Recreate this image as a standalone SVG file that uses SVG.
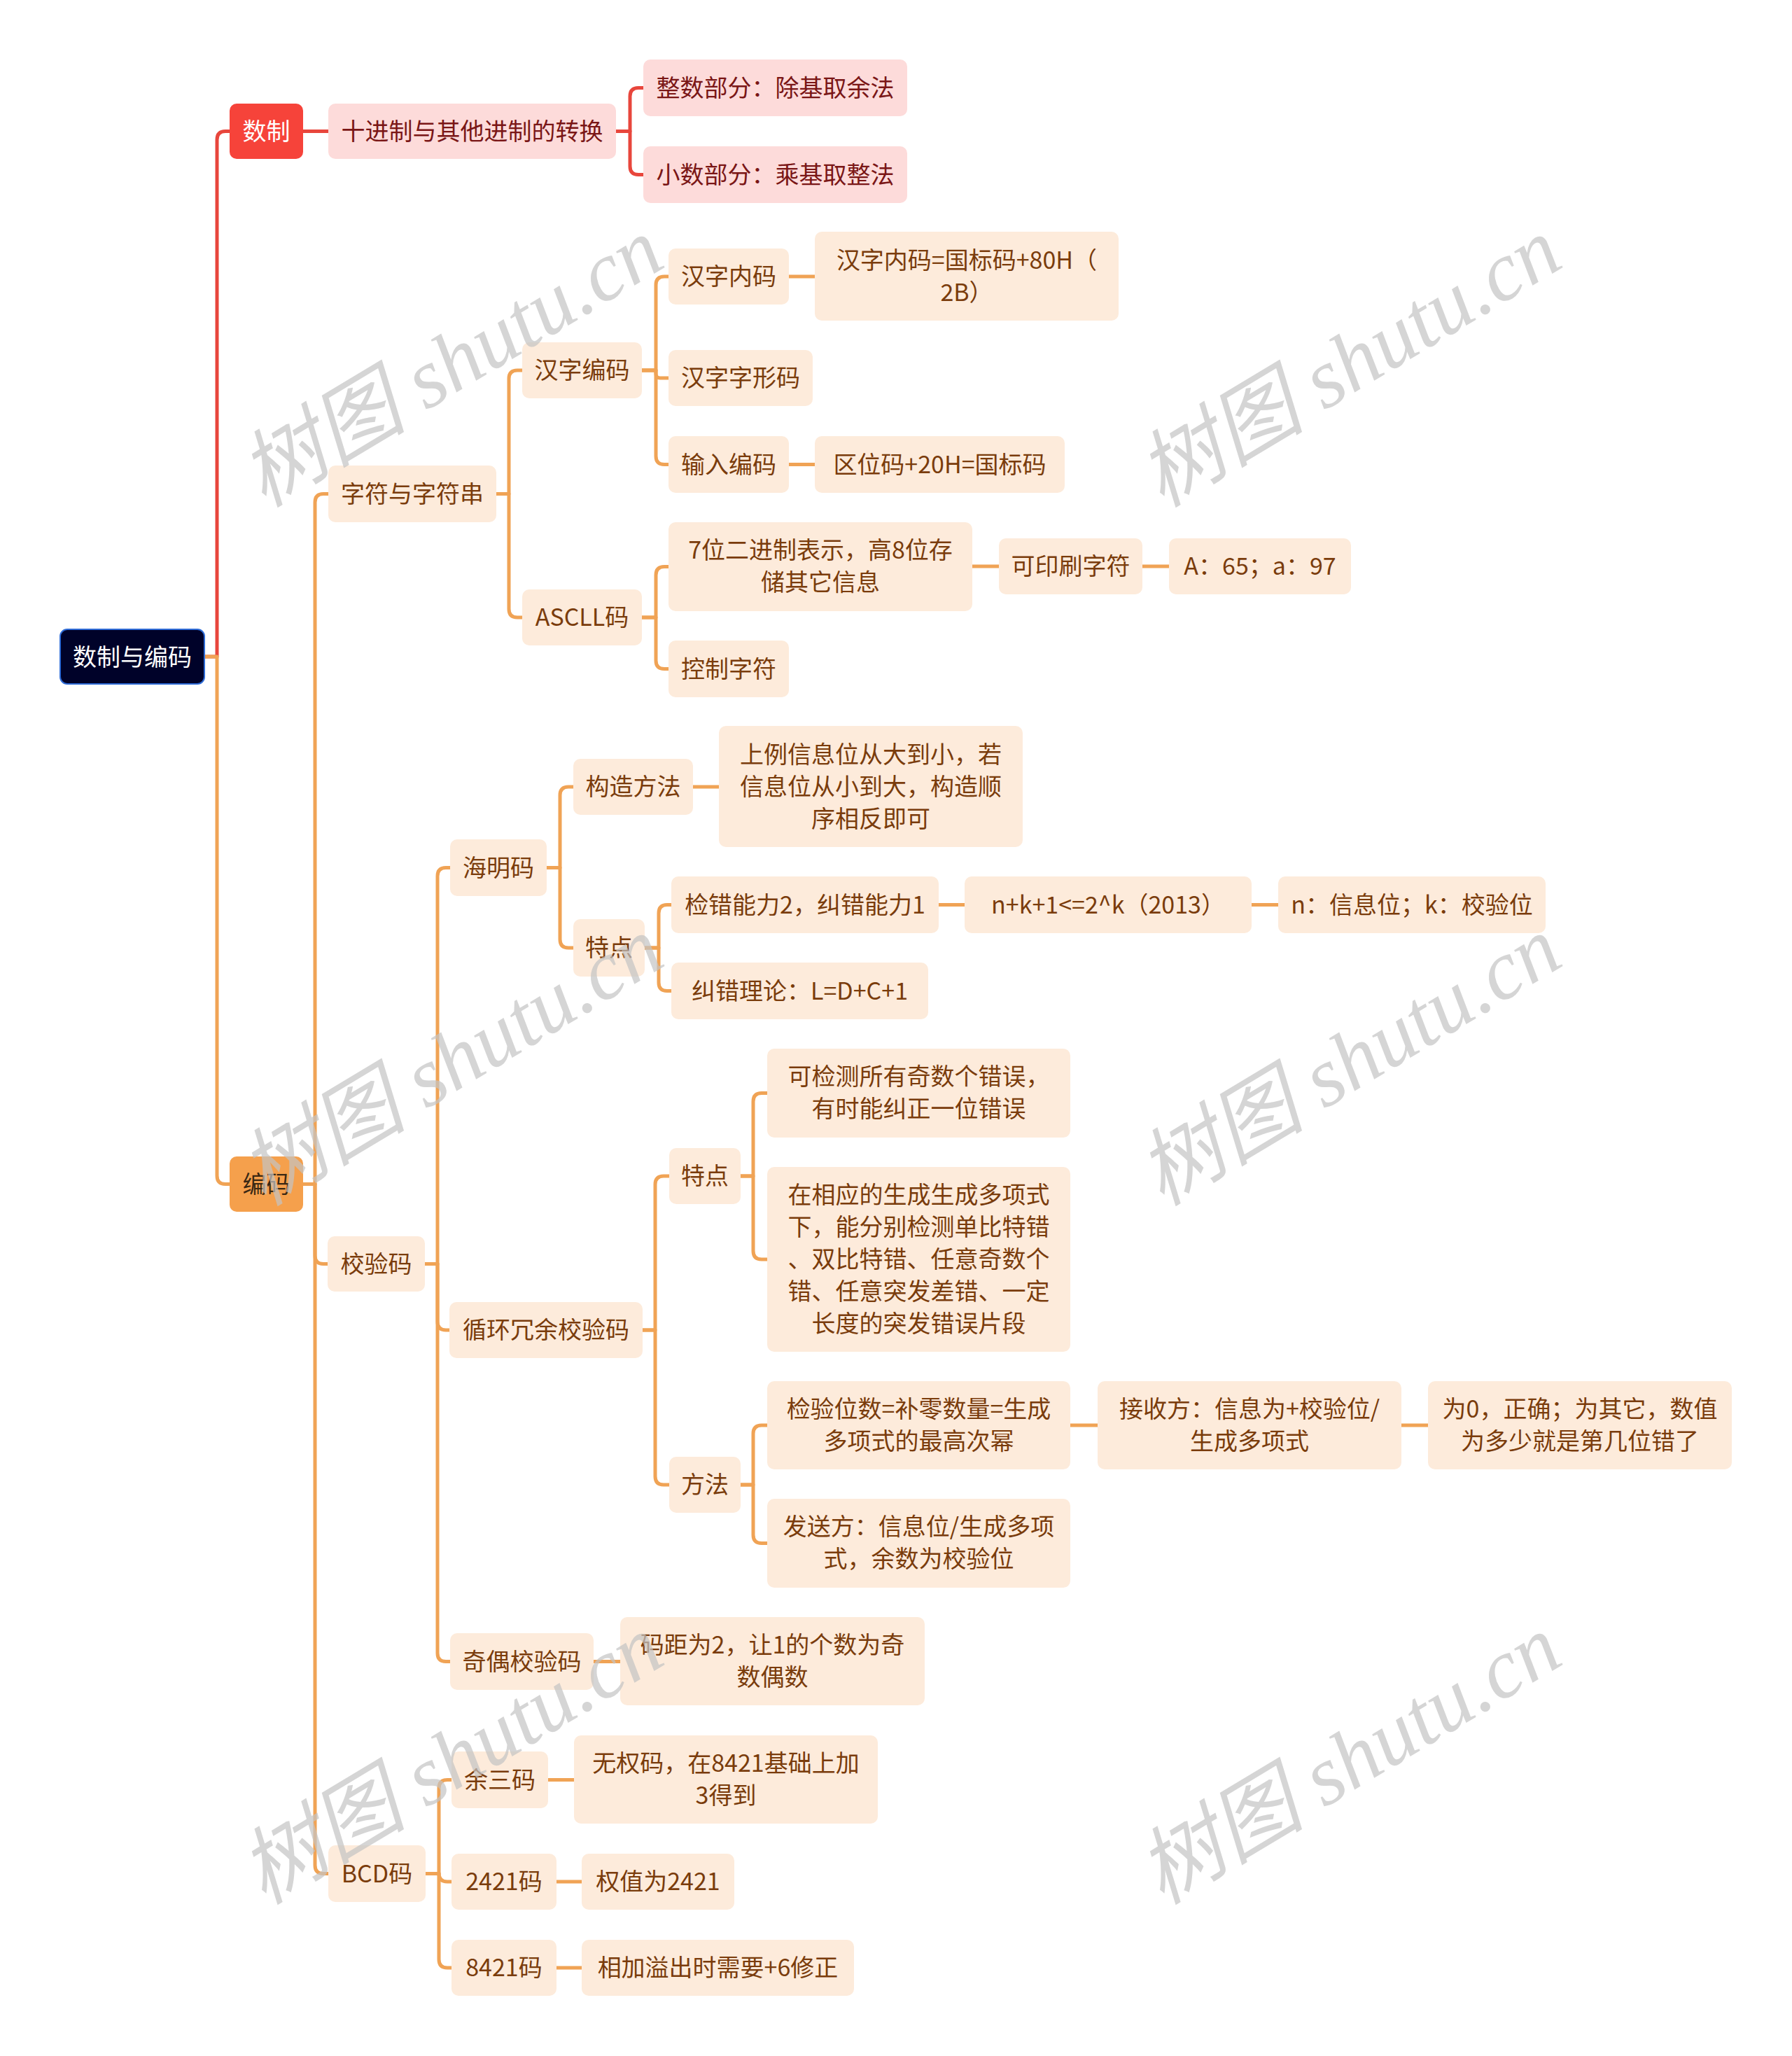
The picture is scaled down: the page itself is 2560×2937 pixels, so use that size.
<svg xmlns="http://www.w3.org/2000/svg" width="2560" height="2937" viewBox="0 0 2560 2937">
<style>
.bg{fill:#ffffff}
.n rect{fill:#fdebdb;rx:10px;ry:10px}
.n text{fill:#7a3c0c;font-family:"Noto Sans CJK SC","Noto Sans",sans-serif;font-size:34px;text-anchor:middle}
.p rect{fill:#fddbda}
.p text{fill:#7a1616}
.cr{fill:none;stroke:#e8463c;stroke-width:5;stroke-linecap:round;stroke-linejoin:round}
.co{fill:none;stroke:#f0a355;stroke-width:5;stroke-linecap:round;stroke-linejoin:round}
.wm{fill:#c4c4c4;opacity:0.7;font-family:"Liberation Serif","Noto Sans CJK SC",serif;font-style:italic;font-size:120px;text-anchor:middle}
</style>
<rect class="bg" x="0" y="0" width="2560" height="2937"/>
<g id="connectors">
<path class="cr" d="M292 938 H310 V199.5 Q310 187.5 322 187.5 H328"/>
<path class="cr" d="M433 187.5 H469"/>
<path class="cr" d="M880 187.5 H900 V137.5 Q900 125.5 912 125.5 H919"/>
<path class="cr" d="M880 187.5 H900 V237.5 Q900 249.5 912 249.5 H919"/>
<path class="co" d="M292 938 H310 V1679.5 Q310 1691.5 322 1691.5 H328"/>
<path class="co" d="M433 1691.5 H450 V717.5 Q450 705.5 462 705.5 H469"/>
<path class="co" d="M433 1691.5 H450 V1793.5 Q450 1805.5 462 1805.5 H468"/>
<path class="co" d="M433 1691.5 H450 V2664.5 Q450 2676.5 462 2676.5 H469"/>
<path class="co" d="M709 705.5 H727 V541 Q727 529 739 529 H746"/>
<path class="co" d="M709 705.5 H727 V870 Q727 882 739 882 H746"/>
<path class="co" d="M917 529 H937 V407 Q937 395 949 395 H955"/>
<path class="co" d="M917 529 H937 V534 Q937 540 943 540 H955"/>
<path class="co" d="M917 529 H937 V651.5 Q937 663.5 949 663.5 H955"/>
<path class="co" d="M1127 395 H1164"/>
<path class="co" d="M1127 663.5 H1164"/>
<path class="co" d="M917 882 H937 V821.5 Q937 809.5 949 809.5 H955"/>
<path class="co" d="M917 882 H937 V943.5 Q937 955.5 949 955.5 H955"/>
<path class="co" d="M1389 809 H1427"/>
<path class="co" d="M1632 809 H1670"/>
<path class="co" d="M607 1805.5 H625 V1251.5 Q625 1239.5 637 1239.5 H643"/>
<path class="co" d="M607 1805.5 H625 V1888 Q625 1900 637 1900 H642"/>
<path class="co" d="M607 1805.5 H625 V2361.5 Q625 2373.5 637 2373.5 H643"/>
<path class="co" d="M781 1239.5 H800 V1136 Q800 1124 812 1124 H819"/>
<path class="co" d="M781 1239.5 H800 V1342 Q800 1354 812 1354 H819"/>
<path class="co" d="M990 1124 H1027"/>
<path class="co" d="M921 1354 H941 V1304.5 Q941 1292.5 953 1292.5 H959"/>
<path class="co" d="M921 1354 H941 V1403.5 Q941 1415.5 953 1415.5 H959"/>
<path class="co" d="M1341 1292.5 H1378"/>
<path class="co" d="M1788 1292.5 H1826"/>
<path class="co" d="M918 1900 H936 V1692 Q936 1680 948 1680 H956"/>
<path class="co" d="M918 1900 H936 V2109 Q936 2121 948 2121 H956"/>
<path class="co" d="M1058 1680 H1076 V1573.5 Q1076 1561.5 1088 1561.5 H1096"/>
<path class="co" d="M1058 1680 H1076 V1787 Q1076 1799 1088 1799 H1096"/>
<path class="co" d="M1058 2121 H1076 V2048 Q1076 2036 1088 2036 H1096"/>
<path class="co" d="M1058 2121 H1076 V2192.5 Q1076 2204.5 1088 2204.5 H1096"/>
<path class="co" d="M1529 2036 H1568"/>
<path class="co" d="M2002 2036 H2040"/>
<path class="co" d="M848 2373.5 H886"/>
<path class="co" d="M608 2676.5 H627 V2554.5 Q627 2542.5 639 2542.5 H645"/>
<path class="co" d="M608 2676.5 H627 V2676 Q627 2688 639 2688 H645"/>
<path class="co" d="M608 2676.5 H627 V2799 Q627 2811 639 2811 H645"/>
<path class="co" d="M783 2542.5 H820"/>
<path class="co" d="M795 2688 H831"/>
<path class="co" d="M795 2811 H831"/>
</g>
<g id="root" class="n"><rect x="86" y="899" width="206" height="78" style="fill:#000229;stroke:#2e6bd6;stroke-width:2"/><text x="189" y="951" style="fill:#ffffff">数制与编码</text></g>
<g id="shuzhi" class="n"><rect x="328" y="148" width="105" height="79" style="fill:#f6433a"/><text x="380.5" y="200" style="fill:#ffffff">数制</text></g>
<g id="zhuanhuan" class="n p"><rect x="469" y="148" width="411" height="79"/><text x="674.5" y="200">十进制与其他进制的转换</text></g>
<g id="zhengshu" class="n p"><rect x="919" y="85" width="377" height="81"/><text x="1107.5" y="138">整数部分：除基取余法</text></g>
<g id="xiaoshu" class="n p"><rect x="919" y="209" width="377" height="81"/><text x="1107.5" y="262">小数部分：乘基取整法</text></g>
<g id="bianma" class="n"><rect x="328" y="1652" width="105" height="79" style="fill:#f5a04c"/><text x="380.5" y="1704" style="fill:#3a2814">编码</text></g>
<g id="zifu" class="n"><rect x="469" y="665" width="240" height="81"/><text x="589" y="718">字符与字符串</text></g>
<g id="hanzibianma" class="n"><rect x="746" y="489" width="171" height="80"/><text x="831.5" y="541">汉字编码</text></g>
<g id="neima" class="n"><rect x="955" y="355" width="172" height="80"/><text x="1041" y="407">汉字内码</text></g>
<g id="neima2" class="n"><rect x="1164" y="331" width="434" height="127"/><text x="1381" y="384">汉字内码=国标码+80H（</text><text x="1381" y="430">2B）</text></g>
<g id="zixing" class="n"><rect x="955" y="500" width="206" height="80"/><text x="1058" y="552">汉字字形码</text></g>
<g id="shuru" class="n"><rect x="955" y="623" width="172" height="81"/><text x="1041" y="676">输入编码</text></g>
<g id="quwei" class="n"><rect x="1164" y="623" width="357" height="81"/><text x="1342.5" y="676">区位码+20H=国标码</text></g>
<g id="ascll" class="n"><rect x="746" y="842" width="171" height="80"/><text x="831.5" y="894">ASCLL码</text></g>
<g id="qiwei" class="n"><rect x="955" y="746" width="434" height="127"/><text x="1172" y="798">7位二进制表示，高8位存</text><text x="1172" y="844">储其它信息</text></g>
<g id="keyinshua" class="n"><rect x="1427" y="769" width="205" height="80"/><text x="1529.5" y="821">可印刷字符</text></g>
<g id="a65" class="n"><rect x="1670" y="769" width="260" height="80"/><text x="1800" y="821">A：65；a：97</text></g>
<g id="kongzhi" class="n"><rect x="955" y="915" width="172" height="81"/><text x="1041" y="968">控制字符</text></g>
<g id="jiaoyanma" class="n"><rect x="468" y="1766" width="139" height="79"/><text x="537.5" y="1818">校验码</text></g>
<g id="haiming" class="n"><rect x="643" y="1199" width="138" height="81"/><text x="712" y="1252">海明码</text></g>
<g id="gouzao" class="n"><rect x="819" y="1084" width="171" height="80"/><text x="904.5" y="1136">构造方法</text></g>
<g id="shangli" class="n"><rect x="1027" y="1037" width="434" height="173"/><text x="1244" y="1090">上例信息位从大到小，若</text><text x="1244" y="1136">信息位从小到大，构造顺</text><text x="1244" y="1182">序相反即可</text></g>
<g id="tedian1" class="n"><rect x="819" y="1313" width="102" height="82"/><text x="870" y="1366">特点</text></g>
<g id="jiancuo" class="n"><rect x="959" y="1252" width="382" height="81"/><text x="1150" y="1305">检错能力2，纠错能力1</text></g>
<g id="nk" class="n"><rect x="1378" y="1252" width="410" height="81"/><text x="1583" y="1305">n+k+1&lt;=2^k（2013）</text></g>
<g id="nxinxi" class="n"><rect x="1826" y="1252" width="382" height="81"/><text x="2017" y="1305">n：信息位；k：校验位</text></g>
<g id="jiucuo" class="n"><rect x="959" y="1375" width="367" height="81"/><text x="1142.5" y="1428">纠错理论：L=D+C+1</text></g>
<g id="crc" class="n"><rect x="642" y="1860" width="276" height="80"/><text x="780" y="1912">循环冗余校验码</text></g>
<g id="tedian2" class="n"><rect x="956" y="1640" width="102" height="80"/><text x="1007" y="1692">特点</text></g>
<g id="kejiance" class="n"><rect x="1096" y="1498" width="433" height="127"/><text x="1312.5" y="1550">可检测所有奇数个错误，</text><text x="1312.5" y="1596">有时能纠正一位错误</text></g>
<g id="zaixiangying" class="n"><rect x="1096" y="1667" width="433" height="264"/><text x="1312.5" y="1719">在相应的生成生成多项式</text><text x="1312.5" y="1765">下，能分别检测单比特错</text><text x="1312.5" y="1811">、双比特错、任意奇数个</text><text x="1312.5" y="1857">错、任意突发差错、一定</text><text x="1312.5" y="1903">长度的突发错误片段</text></g>
<g id="fangfa" class="n"><rect x="956" y="2081" width="102" height="80"/><text x="1007" y="2133">方法</text></g>
<g id="jianyanweishu" class="n"><rect x="1096" y="1973" width="433" height="126"/><text x="1312.5" y="2025">检验位数=补零数量=生成</text><text x="1312.5" y="2071">多项式的最高次幂</text></g>
<g id="jieshou" class="n"><rect x="1568" y="1973" width="434" height="126"/><text x="1785" y="2025">接收方：信息为+校验位/</text><text x="1785" y="2071">生成多项式</text></g>
<g id="wei0" class="n"><rect x="2040" y="1973" width="434" height="126"/><text x="2257" y="2025">为0，正确；为其它，数值</text><text x="2257" y="2071">为多少就是第几位错了</text></g>
<g id="fasong" class="n"><rect x="1096" y="2141" width="433" height="127"/><text x="1312.5" y="2193">发送方：信息位/生成多项</text><text x="1312.5" y="2239">式，余数为校验位</text></g>
<g id="jiou" class="n"><rect x="643" y="2333" width="205" height="81"/><text x="745.5" y="2386">奇偶校验码</text></g>
<g id="maju" class="n"><rect x="886" y="2310" width="435" height="126"/><text x="1103.5" y="2362">码距为2，让1的个数为奇</text><text x="1103.5" y="2408">数偶数</text></g>
<g id="bcd" class="n"><rect x="469" y="2636" width="139" height="81"/><text x="538.5" y="2689">BCD码</text></g>
<g id="yusan" class="n"><rect x="645" y="2502" width="138" height="81"/><text x="714" y="2555">余三码</text></g>
<g id="wuquan" class="n"><rect x="820" y="2479" width="434" height="126"/><text x="1037" y="2531">无权码，在8421基础上加</text><text x="1037" y="2577">3得到</text></g>
<g id="m2421" class="n"><rect x="645" y="2648" width="150" height="80"/><text x="720" y="2700">2421码</text></g>
<g id="quanzhi" class="n"><rect x="831" y="2648" width="218" height="80"/><text x="940" y="2700">权值为2421</text></g>
<g id="m8421" class="n"><rect x="645" y="2771" width="150" height="80"/><text x="720" y="2823">8421码</text></g>
<g id="xiangjia" class="n"><rect x="831" y="2771" width="389" height="80"/><text x="1025.5" y="2823">相加溢出时需要+6修正</text></g>
<g id="watermarks">
<text class="wm" transform="translate(646,520) rotate(-31)" x="0" y="38">树图 shutu.cn</text>
<text class="wm" transform="translate(1929,520) rotate(-31)" x="0" y="38">树图 shutu.cn</text>
<text class="wm" transform="translate(646,1518) rotate(-31)" x="0" y="38">树图 shutu.cn</text>
<text class="wm" transform="translate(1929,1518) rotate(-31)" x="0" y="38">树图 shutu.cn</text>
<text class="wm" transform="translate(646,2516) rotate(-31)" x="0" y="38">树图 shutu.cn</text>
<text class="wm" transform="translate(1929,2516) rotate(-31)" x="0" y="38">树图 shutu.cn</text>
</g>
</svg>
